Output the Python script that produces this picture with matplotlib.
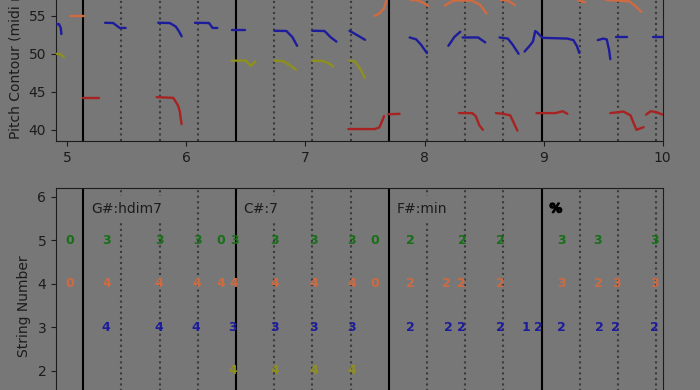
import matplotlib.pyplot as plt
import matplotlib.patheffects as pe

# beat grid (seconds)
downbeats = [5.134, 6.417, 7.700, 8.983]
beats = [5.455, 5.776, 6.096, 6.738, 7.059, 7.379,
         8.021, 8.342, 8.662, 9.304, 9.625, 9.946]

chord_times = [5.20, 6.475, 7.766, 9.05]
chord_labels = ['G#:hdim7', 'C#:7', 'F#:min', '%']

# pitch contours (time, midi), one list of segments per string
pc_string1 = [
    [(5.13, 44.25), (5.27, 44.25)],
    [(5.75, 44.3), (5.89, 44.2), (5.93, 43.2), (5.945, 42.4), (5.95, 41.7), (5.96, 40.75)],
    [(7.36, 40.1), (7.58, 40.1), (7.62, 40.3), (7.64, 41.0), (7.66, 41.8)],
    [(7.695, 42.05), (7.79, 42.1)],
    [(8.29, 42.2), (8.40, 42.2), (8.43, 41.8), (8.46, 40.6), (8.49, 40.0)],
    [(8.60, 42.2), (8.66, 42.1), (8.72, 41.9), (8.75, 40.9), (8.78, 39.9)],
    [(8.94, 42.2), (9.10, 42.2), (9.16, 42.45), (9.20, 42.1)],
    [(9.56, 42.2), (9.67, 42.4), (9.73, 41.9), (9.75, 41.1), (9.78, 40.0), (9.84, 40.35)],
    [(9.86, 42.0), (9.90, 42.45), (9.95, 42.3), (10.0, 42.0)],
]
pc_string2 = [
    [(4.91, 50.0), (4.94, 49.95), (4.97, 49.6)],
    [(6.38, 49.1), (6.50, 49.1), (6.54, 48.4), (6.58, 49.0)],
    [(6.74, 49.1), (6.81, 49.05), (6.86, 48.6), (6.92, 47.9)],
    [(7.057, 49.1), (7.15, 49.05), (7.20, 48.7), (7.233, 48.33)],
    [(7.37, 49.1), (7.415, 49.0), (7.46, 48.0), (7.50, 46.8)],
]
pc_string3 = [
    [(4.91, 53.9), (4.93, 53.9), (4.945, 53.4), (4.95, 52.6)],
    [(5.317, 54.08), (5.385, 54.05), (5.44, 53.4), (5.49, 53.4)],
    [(5.764, 54.08), (5.86, 54.05), (5.91, 53.6), (5.94, 52.9), (5.96, 52.3)],
    [(6.072, 54.08), (6.19, 54.05), (6.22, 53.4), (6.26, 53.4)],
    [(6.38, 53.07), (6.49, 53.07)],
    [(6.738, 53.03), (6.84, 53.0), (6.89, 52.2), (6.93, 51.05)],
    [(7.057, 53.03), (7.16, 53.0), (7.21, 52.2), (7.26, 51.6)],
    [(7.37, 53.03), (7.44, 52.4), (7.50, 51.84)],
    [(7.875, 52.15), (7.93, 51.9), (7.97, 51.2), (8.02, 50.1)],
    [(8.20, 51.05), (8.25, 52.2), (8.30, 52.9)],
    [(8.32, 52.15), (8.45, 52.15), (8.51, 51.5)],
    [(8.63, 52.15), (8.70, 52.0), (8.74, 51.2), (8.79, 50.0)],
    [(8.84, 50.3), (8.88, 51.0), (8.91, 51.6), (8.93, 53.0)],
    [(8.94, 52.9), (8.99, 52.1), (9.20, 52.0), (9.25, 51.8), (9.28, 51.0), (9.30, 50.1)],
    [(9.455, 51.8), (9.50, 52.0), (9.53, 51.9), (9.55, 50.5), (9.56, 49.3)],
    [(9.61, 52.15), (9.70, 52.15)],
    [(9.92, 52.15), (10.0, 52.15)],
]
pc_string4 = [
    [(5.02, 55.0), (5.14, 55.0)],
    [(7.58, 55.0), (7.62, 55.3), (7.66, 56.0), (7.68, 57.0)],
    [(7.88, 57.1), (7.95, 57.0), (8.0, 56.6), (8.03, 56.3)],
    [(8.17, 56.35), (8.24, 57.0), (8.40, 57.0), (8.47, 56.4), (8.52, 55.3)],
    [(8.64, 57.1), (8.70, 57.0), (8.76, 56.4)],
    [(9.29, 57.0), (9.35, 56.8)],
    [(9.52, 57.1), (9.72, 56.9), (9.77, 56.3), (9.82, 55.5)],
]

# tablature: (time, fret) per string
tab_string2 = [(6.39, 4), (6.74, 4), (7.07, 4), (7.39, 4)]
tab_string3 = [(5.32, 4), (5.77, 4), (6.08, 4), (6.39, 3), (6.74, 3), (7.07, 3), (7.39, 3),
               (7.88, 2), (8.20, 2), (8.31, 2), (8.64, 2), (8.85, 1), (8.96, 2),
               (9.15, 2), (9.47, 2), (9.60, 2), (9.93, 2)]
tab_string4 = [(5.02, 0), (5.33, 4), (5.77, 4), (6.09, 4), (6.29, 4), (6.40, 4),
               (6.74, 4), (7.07, 4), (7.39, 4), (7.58, 0), (7.88, 2), (8.18, 2), (8.31, 2),
               (8.64, 2), (9.15, 3), (9.46, 2), (9.61, 3), (9.93, 3)]
tab_string5 = [(5.02, 0), (5.33, 3), (5.77, 3), (6.09, 3), (6.29, 0), (6.40, 3),
               (6.74, 3), (7.07, 3), (7.39, 3), (7.58, 0), (7.88, 2), (8.32, 2),
               (8.64, 2), (9.15, 3), (9.45, 3), (9.93, 3)]

bg = '#777777'
ink = '#1c1c1c'
string_colors = {1: '#a82222', 2: '#8f8f1e', 3: '#1c1c9c', 4: '#d06a40', 5: '#167016'}

plt.rcParams['font.family'] = 'DejaVu Sans'
plt.rcParams['text.color'] = ink
plt.rcParams['axes.edgecolor'] = ink
plt.rcParams['xtick.color'] = ink
plt.rcParams['ytick.color'] = ink
plt.rcParams['axes.labelcolor'] = ink

fig = plt.figure(figsize=(7, 3.9), dpi=100, facecolor=bg)

ax1 = fig.add_axes([0.08, 0.6385, 0.8667, 0.5354], facecolor=bg)
for i, segs in enumerate([pc_string1, pc_string2, pc_string3, pc_string4]):
    for seg in segs:
        ax1.plot([p[0] for p in seg], [p[1] for p in seg], '-', lw=1.7,
                 color=string_colors[i + 1], solid_capstyle='round', zorder=3)
ax1.set_xlim(4.905, 10)
ax1.set_ylim(38.53, 66)
ax1.set_yticks([40, 45, 50, 55])
ax1.set_xticks([5, 6, 7, 8, 9, 10])
ax1.set_ylabel('Pitch Contour (midi note)')
ax1.yaxis.set_label_coords(-0.056, 0.428)

ax2 = fig.add_axes([0.08, -0.1179, 0.8667, 0.6359], facecolor=bg)
for s, tab in [(2, tab_string2), (3, tab_string3), (4, tab_string4), (5, tab_string5)]:
    for t, f in tab:
        ax2.text(t, s, str(f), color=string_colors[s], fontsize=9, fontweight='bold',
                 ha='center', va='center', zorder=3)
for t, lab in zip(chord_times, chord_labels):
    if lab == '%':
        ax2.text(t, 5.72, lab, fontsize=9, fontweight='bold', color='k', ha='left', va='center',
                 bbox=dict(facecolor=bg, edgecolor='none', pad=2), zorder=4,
                 path_effects=[pe.withStroke(linewidth=1.0, foreground='k')])
    else:
        ax2.text(t, 5.72, lab, fontsize=10, ha='left', va='center',
                 bbox=dict(facecolor=bg, edgecolor='none', pad=4), zorder=4)
ax2.set_xlim(4.905, 10)
ax2.set_ylim(0.5, 6.2)
ax2.set_yticks([1, 2, 3, 4, 5, 6])
ax2.set_xticks([5, 6, 7, 8, 9, 10])
ax2.set_ylabel('String Number')
ax2.yaxis.set_label_coords(-0.041, 0.524)

for ax in (ax1, ax2):
    for b in downbeats:
        ax.axvline(b, color='k', lw=1.5, zorder=2)
    for b in beats:
        ax.axvline(b, color='#3a3a3a', lw=1.5, ls=':', zorder=2)

plt.savefig('out.png', dpi=100, facecolor=bg)
